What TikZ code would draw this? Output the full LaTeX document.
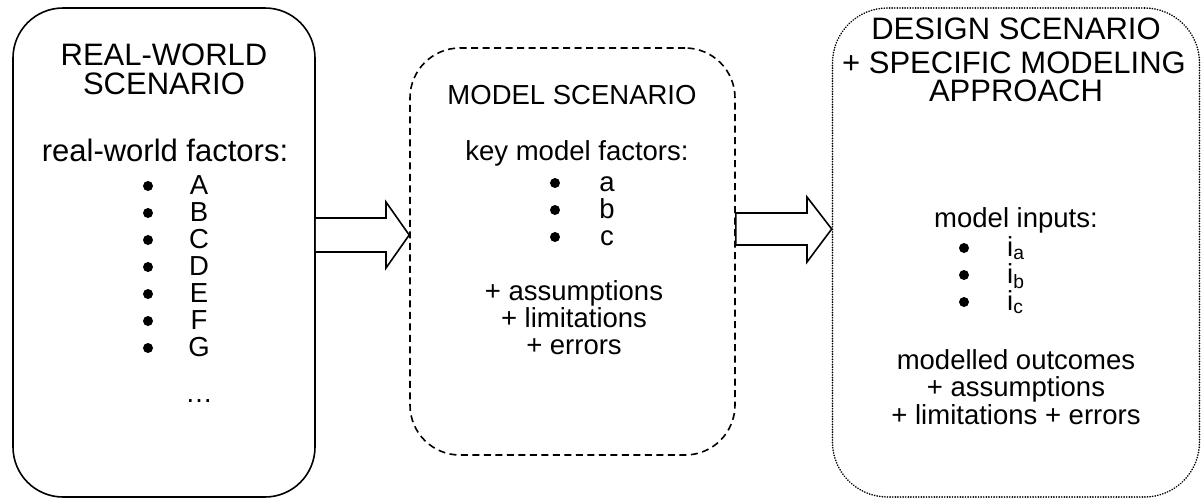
\documentclass[tikz,border=0pt]{standalone}
\usepackage{fontspec}
\setmainfont{Liberation Sans}
\begin{document}
\begin{tikzpicture}[x=1pt,y=-1pt,
  txt/.style={font=\fontsize{27.5}{27}\selectfont, inner sep=0pt, anchor=base},
  bigtxt/.style={font=\fontsize{31}{31}\selectfont, inner sep=0pt, anchor=base},
  bul/.style={circle, fill=black, inner sep=0pt, minimum size=10pt},
  box/.style={draw, line width=1.6pt, rounded corners=50pt, inner sep=0pt},
  blockarrow/.style={draw, fill=white, line width=1.6pt, line join=miter}]
\useasboundingbox (0,0) rectangle (1202,499);
% boxes
\node[box, minimum width=302pt, minimum height=489pt] (b1) at (164,252.5) {};
\node[box, dash pattern=on 7pt off 4.5pt, minimum width=325pt, minimum height=407pt] (b2) at (572.5,251.5) {};
\node[box, line width=1.6pt, dash pattern=on 0.3pt off 2.3pt, line cap=round, rounded corners=55pt, minimum width=367pt, minimum height=489pt] (b3) at (1016,252.5) {};
% block arrows
\draw[blockarrow] (b1.east |- 0,218) -- (386,218) -- (386,202) -- (b2.west |- 0,235) -- (386,268) -- (386,252) -- (b1.east |- 0,252);
\draw[blockarrow] (b2.east |- 0,213) -- (807,213) -- (807,197) -- (b3.west |- 0,229) -- (807,262) -- (807,245) -- (b2.east |- 0,245) -- cycle;
% box 1 text
\node[bigtxt] (t1a) at (164,65) {REAL-WORLD};
\node[bigtxt] (t1b) at (164,94) {SCENARIO};
\node[bigtxt] (t1c) at (165,161) {real-world factors:};
\foreach \l/\y in {A/194,B/221,C/248,D/275,E/302,F/329,G/356}{
  \node[bul] (p1\l) at (148,\y-8) {};
  \node[txt] (l1\l) at (199,\y) {\l};
}
\node[txt] (t1d) at (199,402) {…};
% box 2 text
\node[txt] (t2a) at (572,104) {MODEL SCENARIO};
\node[txt] (t2b) at (577,160) {key model factors:};
\foreach \l/\y in {a/191,b/218,c/245}{
  \node[bul] (p2\l) at (555,\y-8) {};
  \node[txt] (l2\l) at (607,\y) {\l};
}
\node[txt] (t2c) at (574,300) {+ assumptions};
\node[txt] (t2d) at (574,327) {+ limitations};
\node[txt] (t2e) at (574,354) {+ errors};
% box 3 text
\node[bigtxt] (t3a) at (1016,39) {DESIGN SCENARIO};
\node[bigtxt] (t3b) at (1014,73) {+ SPECIFIC MODELING};
\node[bigtxt] (t3c) at (1016,101) {APPROACH};
\node[txt] (t3d) at (1016,227) {model inputs:};
\foreach \l/\y in {a/256,b/283,c/310}{
  \node[bul] (p3\l) at (964,\y-8) {};
  \node[txt, anchor=base west] (l3\l) at (1007,\y) {i\textsubscript{\l}};
}
\node[txt] (t3e) at (1016,369) {modelled outcomes};
\node[txt] (t3f) at (1016,396) {+ assumptions};
\node[txt] (t3g) at (1016,424) {+ limitations + errors};
\end{tikzpicture}
\end{document}
